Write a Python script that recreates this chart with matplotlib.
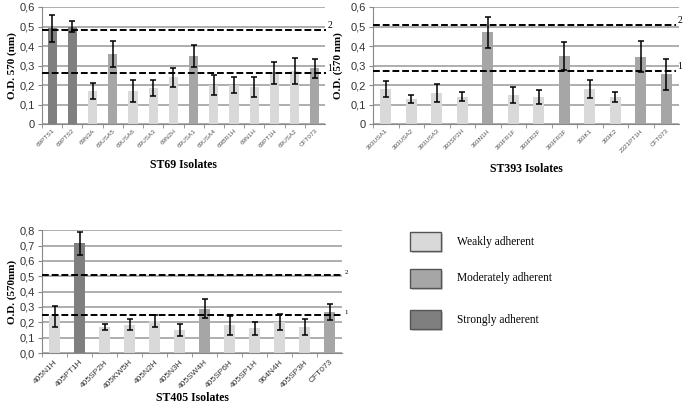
import numpy as np
import matplotlib.pyplot as plt
from matplotlib.patches import Rectangle

# ST69 panel
st69_names = ["69PTS1", "69PTS2", "69N3A", "69USA5", "69USA6", "69USA3", "69N2H",
              "69USA1", "69USA4", "69BR1H", "69N1H", "69PT1H", "69USA2", "CFT073"]
st69_vals = [0.49, 0.50, 0.17, 0.36, 0.17, 0.185, 0.24, 0.35, 0.20, 0.20, 0.19, 0.26, 0.27, 0.285]
st69_err = [0.07, 0.03, 0.04, 0.065, 0.055, 0.043, 0.05, 0.055, 0.05, 0.04, 0.05, 0.057, 0.067, 0.05]
st69_cls = [2, 2, 0, 1, 0, 0, 0, 1, 0, 0, 0, 0, 0, 1]
st69_cut = [0.26, 0.48]

# ST393 panel
st393_names = ["393USA1", "393USA2", "393USA3", "393SP2H", "393N1H", "393FR1F", "393FR2F",
               "393FR3F", "393K1", "393K2", "2321PT1H", "CFT073"]
st393_vals = [0.18, 0.13, 0.16, 0.14, 0.47, 0.15, 0.14, 0.35, 0.18, 0.14, 0.345, 0.255]
st393_err = [0.043, 0.02, 0.045, 0.023, 0.08, 0.042, 0.035, 0.072, 0.047, 0.025, 0.08, 0.078]
st393_cls = [0, 0, 0, 0, 1, 0, 0, 1, 0, 0, 1, 1]
st393_cut = [0.27, 0.51]

# ST405 panel
st405_names = ["405N1H", "405PT1H", "405SP2H", "405KW5H", "405N2H", "405N3H", "405SW4H",
               "405SP6H", "405SP1H", "964N4H", "405SP3H", "CFT073"]
st405_vals = [0.24, 0.715, 0.17, 0.185, 0.21, 0.15, 0.29, 0.18, 0.16, 0.20, 0.17, 0.265]
st405_err = [0.068, 0.075, 0.017, 0.038, 0.04, 0.042, 0.06, 0.06, 0.045, 0.053, 0.05, 0.053]
st405_cls = [0, 2, 0, 0, 0, 0, 1, 0, 0, 0, 0, 1]
st405_cut = [0.245, 0.51]

legend_labels = ["Weakly adherent", "Moderately adherent", "Strongly adherent"]
colors = ["#d9d9d9", "#a6a6a6", "#7f7f7f"]

serif = "Liberation Serif"
sans = "Liberation Sans"

fig = plt.figure(figsize=(6.85, 4.11), dpi=100)


def panel(rect, names, vals, err, cls, cut, ymax, ylabel, xlabel,
          ylab_x, xlab_y, zero_fmt, xtick_fs, xpad, xcol, cut_end, cut_fs):
    ax = fig.add_axes(rect)
    x = np.arange(len(names))
    ax.bar(x, vals, width=0.45, color=[colors[c] for c in cls], zorder=2)
    ax.errorbar(x, vals, yerr=err, fmt="none", ecolor="black", elinewidth=1.1,
                capsize=2.5, capthick=1.1, zorder=4)
    for i, c in enumerate(cut):
        ax.axhline(c, color="black", lw=1.4, ls=(0, (3.5, 1.5)), zorder=3,
                   xmax=cut_end, clip_on=False)
        ax.text(cut_end + 0.004, c, str(i + 1), transform=ax.get_yaxis_transform(),
                fontsize=cut_fs, family=serif, va="bottom", ha="left")
    ax.set_xlim(-0.5, len(names) - 0.5)
    ax.set_ylim(0, ymax)
    ticks = np.arange(0, ymax + 1e-9, 0.1)
    ax.set_yticks(ticks)
    lbls = [("%.1f" % t).replace(".", ",") for t in ticks]
    lbls[0] = zero_fmt
    ax.set_yticklabels(lbls, fontsize=8, family=sans, color="#333333")
    ax.grid(axis="y", color="#a8a8a8", lw=1.3, zorder=0)
    ax.set_axisbelow(True)
    ax.set_xticks(x - 0.5, minor=True)
    ax.set_xticks(x)
    ax.set_xticklabels(names, rotation=45, ha="right", rotation_mode="anchor",
                       fontsize=xtick_fs, family=sans, color=xcol)
    ax.tick_params(axis="x", which="major", length=0, pad=xpad)
    ax.tick_params(axis="x", which="minor", length=3, color="#888888")
    ax.tick_params(axis="y", length=3, color="#888888", pad=2)
    for s in ["top", "right"]:
        ax.spines[s].set_visible(False)
    for s in ["left", "bottom"]:
        ax.spines[s].set_color("#888888")
    fig.text(ylab_x, rect[1] + rect[3] / 2, ylabel, rotation=90, va="center",
             ha="center", fontsize=8, family=serif, weight="bold")
    fig.text(rect[0] + rect[2] / 2, xlab_y, xlabel, va="center", ha="center",
             fontsize=8.5, family=serif, weight="bold")
    return ax


panel([42 / 685, 0.698, 283 / 685, 0.285], st69_names, st69_vals, st69_err, st69_cls,
      st69_cut, 0.6, "O.D. 570 (nm)", "ST69 Isolates", 12 / 685, 1 - 165 / 411,
      "0", 4.6, 3, "#555555", 1.005, 7)
panel([373 / 685, 0.698, 306 / 685, 0.285], st393_names, st393_vals, st393_err, st393_cls,
      st393_cut, 0.6, "O.D. (570 nm)", "ST393 Isolates", 338 / 685, 1 - 169 / 411,
      "0", 4.6, 3, "#555555", 0.99, 7)
panel([42 / 685, 0.141, 300 / 685, 0.299], st405_names, st405_vals, st405_err, st405_cls,
      st405_cut, 0.8, "O.D. (570nm)", "ST405 Isolates", 12 / 685, 1 - 398 / 411,
      "0,0", 6.0, 4, "#333333", 1.005, 5)

# legend boxes
box_tops = [232, 269, 310]
for lab, col, top in zip(legend_labels, colors, box_tops):
    y0 = (411 - top - 19) / 411
    fig.patches.append(Rectangle((412 / 685, y0 - 2 / 411), 31 / 685, 19 / 411,
                                 transform=fig.transFigure, facecolor="#cfcfcf",
                                 edgecolor="none", zorder=1))
    fig.patches.append(Rectangle((410 / 685, y0), 31 / 685, 19 / 411,
                                 transform=fig.transFigure, facecolor=col,
                                 edgecolor="#555555", lw=1.0, zorder=2))
    fig.text(457 / 685, y0 + 9.5 / 411, lab, va="center", ha="left",
             fontsize=8.3, family=serif)

fig.savefig("out.png", dpi=100)
